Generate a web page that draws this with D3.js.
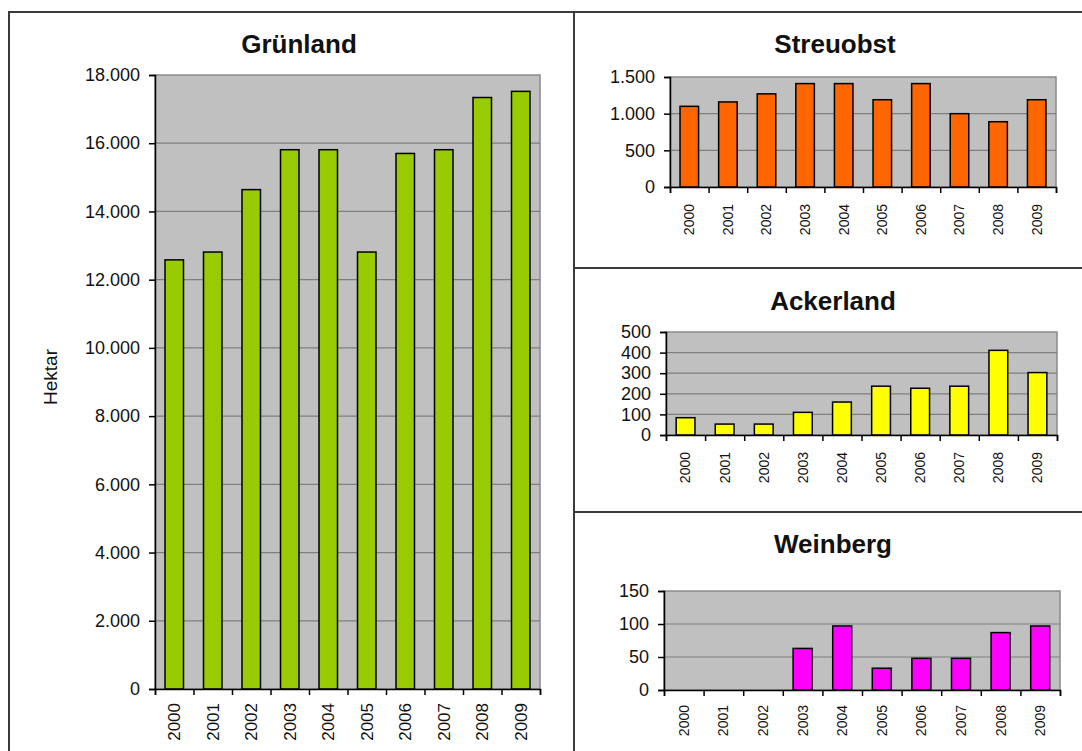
<!DOCTYPE html>
<html>
<head>
<meta charset="utf-8">
<script src="https://cdn.jsdelivr.net/npm/d3@7"></script>
<style>
  body { margin: 0; background: #fff; }
  text { font-family: "Liberation Sans", Arial, sans-serif; fill: #111; }
</style>
</head>
<body>
<div id="chart"></div>
<script>
// data (hectares per year)
var years = ['2000', '2001', '2002', '2003', '2004', '2005', '2006', '2007', '2008', '2009'];
var gruenland = [12580, 12810, 14640, 15810, 15810, 12810, 15700, 15810, 17340, 17520];
var streuobst = [1100, 1160, 1270, 1410, 1410, 1190, 1410, 1000, 890, 1190];
var ackerland = [84, 53, 53, 110, 160, 237, 227, 237, 411, 303];
var weinberg = [0, 0, 0, 63, 97, 33, 48, 48, 87, 97];

var gruenlandTicks = [0, 2000, 4000, 6000, 8000, 10000, 12000, 14000, 16000, 18000];
var streuobstTicks = [0, 500, 1000, 1500];
var ackerlandTicks = [0, 100, 200, 300, 400, 500];
var weinbergTicks = [0, 50, 100, 150];

var titles = ['Grünland', 'Streuobst', 'Ackerland', 'Weinberg'];
var yLabel = 'Hektar';

var W = 1082, H = 751;

var de = d3.formatLocale({decimal: ',', thousands: '.', grouping: [3], currency: ['', ' €']});
var fmt = de.format(',d');

var svg = d3.select('#chart').append('svg')
  .attr('width', W)
  .attr('height', H);

// panel frames
var frame = svg.append('g')
  .attr('fill', 'none')
  .attr('stroke', '#3a3a3a')
  .attr('stroke-width', 2);
frame.append('rect').attr('x', 9).attr('y', 12).attr('width', 565).attr('height', 800);
frame.append('line').attr('x1', 574).attr('x2', W + 2).attr('y1', 12).attr('y2', 12);
frame.append('line').attr('x1', 574).attr('x2', W + 2).attr('y1', 268).attr('y2', 268);
frame.append('line').attr('x1', 574).attr('x2', W + 2).attr('y1', 512).attr('y2', 512);

var panels = [
  {title: titles[0], values: gruenland, ticks: gruenlandTicks, color: '#99cc00',
   x0: 155, x1: 540, y0: 75, y1: 689, tx: 299, ty: 53, yearSize: 17, yearGap: 14},
  {title: titles[1], values: streuobst, ticks: streuobstTicks, color: '#ff6600',
   x0: 670, x1: 1056, y0: 77, y1: 187, tx: 835, ty: 53, yearSize: 14, yearGap: 17},
  {title: titles[2], values: ackerland, ticks: ackerlandTicks, color: '#ffff00',
   x0: 666, x1: 1057, y0: 332, y1: 435, tx: 833, ty: 310, yearSize: 14, yearGap: 17},
  {title: titles[3], values: weinberg, ticks: weinbergTicks, color: '#ff00ff',
   x0: 664, x1: 1060, y0: 591, y1: 690, tx: 833, ty: 553, yearSize: 14, yearGap: 15}
];

panels.forEach(function (p) {
  var g = svg.append('g');

  var x = d3.scaleBand()
    .domain(years)
    .range([p.x0, p.x1])
    .padding(0);

  var y = d3.scaleLinear()
    .domain([0, d3.max(p.ticks)])
    .range([p.y1, p.y0]);

  var barW = x.bandwidth() * 0.48;

  // plot area
  g.append('rect')
    .attr('x', p.x0)
    .attr('y', p.y0)
    .attr('width', p.x1 - p.x0)
    .attr('height', p.y1 - p.y0)
    .attr('fill', '#c0c0c0')
    .attr('stroke', '#8a8a8a')
    .attr('stroke-width', 1.5);

  // gridlines
  g.selectAll('line.grid').data(p.ticks.slice(1, -1))
    .enter()
    .append('line')
    .attr('class', 'grid')
    .attr('x1', p.x0)
    .attr('x2', p.x1)
    .attr('y1', function (d) { return y(d); })
    .attr('y2', function (d) { return y(d); })
    .attr('stroke', '#7f7f7f')
    .attr('stroke-width', 1.2);

  // bars
  g.selectAll('rect.bar').data(p.values)
    .enter()
    .append('rect')
    .attr('class', 'bar')
    .attr('x', function (d, i) { return x(years[i]) + (x.bandwidth() - barW) / 2; })
    .attr('y', function (d) { return y(d); })
    .attr('width', barW)
    .attr('height', function (d) { return y(0) - y(d); })
    .attr('fill', p.color)
    .attr('stroke', '#000')
    .attr('stroke-width', 1.5)
    .style('display', function (d) { return d > 0 ? null : 'none'; });

  // y axis
  var yAxis = g.append('g')
    .attr('transform', 'translate(' + p.x0 + ',0)')
    .call(d3.axisLeft(y).tickValues(p.ticks).tickFormat(fmt).tickSize(6).tickPadding(9));
  yAxis.selectAll('text')
    .style('font-size', '18px')
    .style('font-family', '"Liberation Sans", Arial, sans-serif')
    .attr('fill', '#111');

  // x axis: ticks on the category boundaries
  var edges = d3.scaleLinear().domain([0, years.length]).range([p.x0, p.x1]);
  g.append('g')
    .attr('transform', 'translate(0,' + p.y1 + ')')
    .call(d3.axisBottom(edges).tickValues(d3.range(years.length + 1)).tickFormat('').tickSize(6));

  g.selectAll('.domain, .tick line')
    .attr('stroke', '#000')
    .attr('stroke-width', 1.5);

  // year labels
  g.selectAll('text.year').data(years)
    .enter()
    .append('text')
    .attr('class', 'year')
    .attr('transform', function (d) {
      return 'translate(' + (x(d) + x.bandwidth() / 2) + ',' + (p.y1 + p.yearGap) + ') rotate(-90)';
    })
    .attr('text-anchor', 'end')
    .attr('dy', '0.35em')
    .style('font-size', p.yearSize + 'px')
    .text(function (d) { return d; });

  // title
  g.append('text')
    .attr('x', p.tx)
    .attr('y', p.ty)
    .attr('text-anchor', 'middle')
    .style('font-size', '26px')
    .style('font-weight', 'bold')
    .text(p.title);
});

svg.append('text')
  .attr('transform', 'translate(50,377) rotate(-90)')
  .attr('text-anchor', 'middle')
  .attr('dy', '0.35em')
  .style('font-size', '19px')
  .text(yLabel);
</script>
</body>
</html>
